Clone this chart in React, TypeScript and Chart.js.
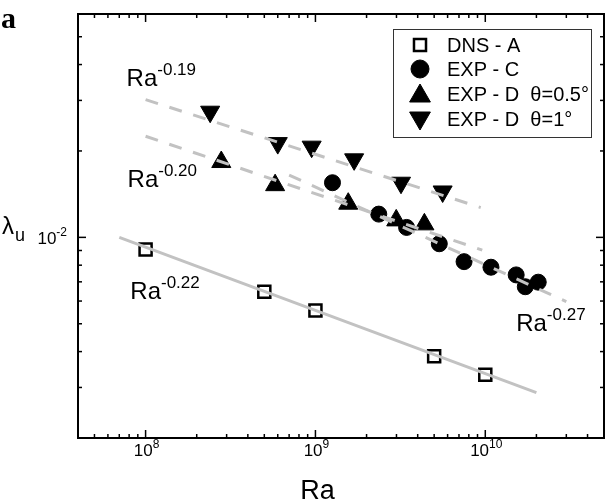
import React, { useEffect, useRef } from 'react';
import { Chart, registerables } from 'chart.js';

Chart.register(...registerables);

// ---- data: Ra on x, λu on y ----
const dnsRa = [1e8, 5e8, 1e9, 5e9, 1e10];
const dnsLambda = [9.08e-3, 6.47e-3, 5.56e-3, 3.85e-3, 3.32e-3];

const expCRa = [1.26e9, 2.36e9, 3.44e9, 5.36e9, 7.5e9, 1.08e10, 1.52e10, 1.72e10, 2.05e10];
const expCLambda = [1.55e-2, 1.205e-2, 1.083e-2, 9.5e-3, 8.23e-3, 7.87e-3, 7.4e-3, 6.73e-3, 6.98e-3];

const expD05Ra = [2.79e8, 5.79e8, 1.56e9, 2.99e9, 4.38e9];
const expD05Lambda = [1.83e-2, 1.52e-2, 1.31e-2, 1.146e-2, 1.11e-2];

const expD1Ra = [2.4e8, 6.0e8, 9.5e8, 1.69e9, 3.19e9, 5.61e9];
const expD1Lambda = [2.74e-2, 2.13e-2, 2.07e-2, 1.87e-2, 1.55e-2, 1.445e-2];

// power-law fit segments (end points)
const fit022Ra = [7e7, 2e10];
const fit022Lambda = [1.0e-2, 2.88e-3];
const fit019Ra = [1e8, 9.4e9];
const fit019Lambda = [3.02e-2, 1.27e-2];
const fit020Ra = [1e8, 9.6e9];
const fit020Lambda = [2.25e-2, 9.03e-3];
const fit027Ra = [7e8, 3e10];
const fit027Lambda = [1.648e-2, 5.97e-3];

// fit labels: exponent text and anchor (Ra, λ) of the label's left baseline
const fitExponents = ['-0.19', '-0.20', '-0.22', '-0.27'];
const fitLabelRa = [7.73e7, 7.83e7, 8.13e7, 1.52e10];
const fitLabelLambda = [3.36e-2, 1.5e-2, 6.09e-3, 4.7e-3];

// axes
const xMin = 4e7;
const xMax = 5e10;
const yMin = 2e-3;
const yMax = 6e-2;
const xMajorTicks = [1e8, 1e9, 1e10];
const xMajorExponents = ['8', '9', '10'];
const yMajorTicks = [1e-2];
const yMajorExponents = ['-2'];

const seriesNames = ['DNS - A', 'EXP - C', 'EXP - D  \u03b8=0.5\u00b0', 'EXP - D  \u03b8=1\u00b0'];

const SANS = '"Liberation Sans", Arial, Helvetica, sans-serif';
const FIT_GREY = '#c2c2c2';

const pts = (xs: number[], ys: number[]) => xs.map((x, i) => ({ x, y: ys[i] }));

function minorTicks(min: number, max: number) {
  const out: number[] = [];
  for (let e = Math.floor(Math.log10(min)); e <= Math.ceil(Math.log10(max)); e++) {
    for (let k = 2; k <= 9; k++) {
      const v = k * Math.pow(10, e);
      if (v >= min * 0.999 && v <= max * 1.001) out.push(v);
    }
  }
  return out;
}

function drawMarker(
  ctx: CanvasRenderingContext2D,
  style: string,
  x: number,
  y: number,
  r: number,
  fill: string | null,
  lw: number
) {
  ctx.save();
  ctx.beginPath();
  if (style === 'rect') {
    const s = Math.SQRT1_2 * r;
    ctx.rect(x - s, y - s, 2 * s, 2 * s);
  } else if (style === 'circle') {
    ctx.arc(x, y, r, 0, Math.PI * 2);
  } else {
    const rot = style === 'triangle' ? 0 : Math.PI;
    for (let k = 0; k < 3; k++) {
      const a = rot + (k * 2 * Math.PI) / 3;
      const px = x + Math.sin(a) * r;
      const py = y - Math.cos(a) * r;
      if (k === 0) ctx.moveTo(px, py);
      else ctx.lineTo(px, py);
    }
    ctx.closePath();
  }
  if (fill) {
    ctx.fillStyle = fill;
    ctx.fill();
  }
  ctx.lineWidth = lw;
  ctx.strokeStyle = '#000';
  ctx.stroke();
  ctx.restore();
}

// base text with a raised exponent; align: 'left' | 'center' | 'right'
function drawPower(
  ctx: CanvasRenderingContext2D,
  base: string,
  exp: string,
  x: number,
  y: number,
  baseSize: number,
  expSize: number,
  rise: number,
  align: 'left' | 'center' | 'right'
) {
  ctx.save();
  ctx.fillStyle = '#000';
  ctx.textAlign = 'left';
  ctx.textBaseline = 'alphabetic';
  ctx.font = `${baseSize}px ${SANS}`;
  const wb = ctx.measureText(base).width;
  ctx.font = `${expSize}px ${SANS}`;
  const we = ctx.measureText(exp).width;
  let x0 = x;
  if (align === 'center') x0 = x - (wb + we) / 2;
  if (align === 'right') x0 = x - (wb + we);
  ctx.font = `${baseSize}px ${SANS}`;
  ctx.fillText(base, x0, y);
  ctx.font = `${expSize}px ${SANS}`;
  ctx.fillText(exp, x0 + wb, y - rise);
  ctx.restore();
}

const decorations = {
  id: 'decorations',
  afterDraw(chart: any) {
    const ctx: CanvasRenderingContext2D = chart.ctx;
    const { left, right, top, bottom } = chart.chartArea;
    const xs = chart.scales.x;
    const ys = chart.scales.y;

    ctx.save();
    // frame
    ctx.strokeStyle = '#000';
    ctx.lineWidth = 2;
    ctx.strokeRect(left, top, right - left, bottom - top);

    // inward ticks on all four sides
    ctx.lineWidth = 1.5;
    const tick = (x1: number, y1: number, x2: number, y2: number) => {
      ctx.beginPath();
      ctx.moveTo(x1, y1);
      ctx.lineTo(x2, y2);
      ctx.stroke();
    };
    const xMinor = minorTicks(xMin, xMax);
    const yMinor = minorTicks(yMin, yMax);
    xMajorTicks.forEach((v) => {
      const px = xs.getPixelForValue(v);
      tick(px, bottom, px, bottom - 8);
      tick(px, top, px, top + 8);
    });
    xMinor.forEach((v) => {
      const px = xs.getPixelForValue(v);
      if (px <= left + 1 || px >= right - 1) return;
      tick(px, bottom, px, bottom - 4);
      tick(px, top, px, top + 4);
    });
    yMajorTicks.forEach((v) => {
      const py = ys.getPixelForValue(v);
      tick(left, py, left + 8, py);
      tick(right, py, right - 8, py);
    });
    yMinor.forEach((v) => {
      const py = ys.getPixelForValue(v);
      if (py <= top + 1 || py >= bottom - 1) return;
      tick(left, py, left + 4, py);
      tick(right, py, right - 4, py);
    });

    // tick labels
    xMajorTicks.forEach((v, i) => {
      drawPower(ctx, '10', xMajorExponents[i], xs.getPixelForValue(v) + 1, bottom + 18, 17, 12, 8, 'center');
    });
    yMajorTicks.forEach((v, i) => {
      drawPower(ctx, '10', yMajorExponents[i], left - 11, ys.getPixelForValue(v) + 7, 17, 12, 8, 'right');
    });

    // axis titles
    ctx.fillStyle = '#000';
    ctx.textBaseline = 'alphabetic';
    ctx.textAlign = 'center';
    ctx.font = `27px ${SANS}`;
    ctx.fillText('Ra', xs.getPixelForValue(1e9) + 2, bottom + 61);
    ctx.textAlign = 'left';
    ctx.font = `24px ${SANS}`;
    ctx.fillText('\u03bb', 2, ys.getPixelForValue(1e-2) - 3);
    ctx.font = `18px ${SANS}`;
    ctx.fillText('u', 15, ys.getPixelForValue(1e-2) + 4);

    // fit labels
    fitExponents.forEach((e, i) => {
      drawPower(
        ctx,
        'Ra',
        e,
        xs.getPixelForValue(fitLabelRa[i]),
        ys.getPixelForValue(fitLabelLambda[i]),
        24,
        17,
        11,
        'left'
      );
    });

    // legend
    const bx = right - 211;
    const by = top + 15;
    ctx.lineWidth = 1;
    ctx.strokeStyle = '#333';
    ctx.strokeRect(bx + 0.5, by + 0.5, 198, 108);
    const markerStyles = ['rect', 'circle', 'triangle', 'triangleDown'];
    const markerRadius = [8.5, 9, 12, 12];
    const rowY = [16, 40, 65, 90];
    markerStyles.forEach((s, i) => {
      const cy = by + rowY[i] + (s === 'triangle' ? 2 : s === 'triangleDown' ? -1 : 0);
      drawMarker(ctx, s, bx + 27, cy, markerRadius[i], s === 'rect' ? null : '#000', s === 'rect' ? 2.5 : 1);
    });
    ctx.fillStyle = '#000';
    ctx.font = `20px ${SANS}`;
    ctx.textAlign = 'left';
    seriesNames.forEach((n, i) => {
      ctx.fillText(n, bx + 54, by + rowY[i] + 7);
    });

    // panel letter
    ctx.font = `bold 30px "Liberation Serif", "Times New Roman", serif`;
    ctx.fillText('a', 1, 28);
    ctx.restore();
  },
};

export default function App() {
  const ref = useRef<HTMLCanvasElement>(null);

  useEffect(() => {
    const canvas = ref.current;
    if (!canvas) return;
    const fitLine = (xsv: number[], ysv: number[], dashed: boolean) => ({
      data: pts(xsv, ysv),
      showLine: true,
      borderColor: FIT_GREY,
      borderWidth: 3,
      borderDash: dashed ? [13, 12] : [],
      pointRadius: 0,
      pointHoverRadius: 0,
      order: 0,
    });
    const chart = new Chart(canvas, {
      type: 'scatter',
      data: {
        datasets: [
          { label: 'Ra^-0.22', ...fitLine(fit022Ra, fit022Lambda, false) },
          { label: 'Ra^-0.19', ...fitLine(fit019Ra, fit019Lambda, true) },
          { label: 'Ra^-0.20', ...fitLine(fit020Ra, fit020Lambda, true) },
          { label: 'Ra^-0.27', ...fitLine(fit027Ra, fit027Lambda, true) },
          {
            label: seriesNames[0],
            data: pts(dnsRa, dnsLambda),
            pointStyle: 'rect',
            pointRadius: 8.5,
            borderWidth: 2.5,
            borderColor: '#000',
            backgroundColor: 'rgba(0,0,0,0)',
            order: 1,
          },
          {
            label: seriesNames[1],
            data: pts(expCRa, expCLambda),
            pointStyle: 'circle',
            pointRadius: 8,
            borderWidth: 1,
            borderColor: '#000',
            backgroundColor: '#000',
            order: 1,
          },
          {
            label: seriesNames[2],
            data: pts(expD05Ra, expD05Lambda),
            pointStyle: 'triangle',
            pointRadius: 11,
            borderWidth: 1,
            borderColor: '#000',
            backgroundColor: '#000',
            order: 1,
          },
          {
            label: seriesNames[3],
            data: pts(expD1Ra, expD1Lambda),
            pointStyle: 'triangle',
            rotation: 180,
            pointRadius: 11,
            borderWidth: 1,
            borderColor: '#000',
            backgroundColor: '#000',
            order: 1,
          },
        ],
      },
      options: {
        responsive: false,
        devicePixelRatio: 1,
        animation: false,
        layout: { autoPadding: false, padding: { left: 78, top: 14, right: 3, bottom: 64 } },
        scales: {
          x: { type: 'logarithmic', min: xMin, max: xMax, display: false },
          y: { type: 'logarithmic', min: yMin, max: yMax, display: false },
        },
        plugins: {
          legend: { display: false },
          tooltip: { enabled: false },
        },
      },
      plugins: [decorations],
    } as any);
    return () => chart.destroy();
  }, []);

  return (
    <div style={{ position: 'fixed', left: 0, top: 0, width: 607, height: 502, background: '#fff' }}>
      <canvas ref={ref} width={607} height={502} style={{ display: 'block', width: 607, height: 502 }} />
    </div>
  );
}
